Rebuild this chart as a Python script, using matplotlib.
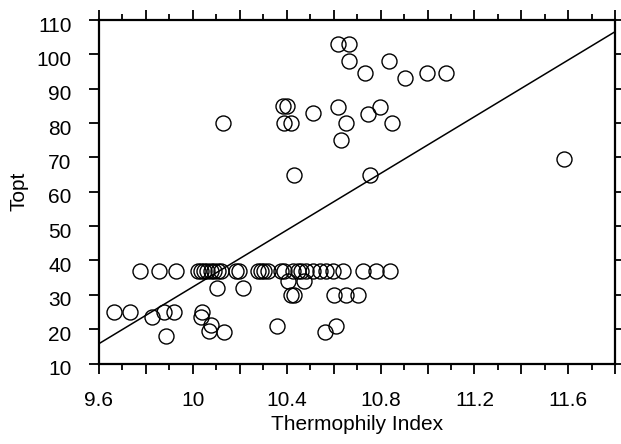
import numpy as np
import matplotlib
matplotlib.use("Agg")
import matplotlib.pyplot as plt
import matplotlib.transforms as mtransforms
from matplotlib.ticker import MultipleLocator

plt.rcParams['font.family'] = ['Liberation Sans', 'DejaVu Sans']

# -------------------------------
# Data
# -------------------------------
# high-Topt organisms
hi_x = [10.13, 10.385, 10.40, 10.387, 10.418, 10.51, 10.43,
        10.618, 10.667, 10.664, 10.835, 10.734, 10.999, 11.08, 10.906,
        10.62, 10.796, 10.653, 10.848, 10.746, 10.632, 10.756, 11.583]
hi_y = [80, 85, 85, 80, 80, 83, 65,
        103, 103, 98, 98, 94.6, 94.6, 94.6, 93.2,
        84.7, 84.7, 80, 80, 82.7, 75, 65, 69.6]

# the crowded row at ~37 C
row_x = [9.774, 9.856, 9.927, 10.02, 10.034, 10.048, 10.062, 10.077, 10.091,
         10.105, 10.119, 10.184, 10.198, 10.276, 10.29, 10.305, 10.319, 10.376,
         10.39, 10.425, 10.447, 10.461, 10.482, 10.511, 10.54, 10.568, 10.596,
         10.639, 10.724, 10.781, 10.838]
row_y = [36.8] * len(row_x)

# low-Topt organisms
lo_x = [10.404, 10.475, 10.42, 10.43, 10.603, 10.653, 10.703,
        10.101, 10.212, 9.664, 9.731, 9.878, 9.92, 9.825, 9.885,
        10.041, 10.034, 10.077, 10.07, 10.134, 10.357, 10.564, 10.608]
lo_y = [34, 34, 30, 30, 30, 30, 30,
        32, 32, 25, 25, 25, 25, 23.6, 18,
        25, 23.6, 21.2, 19.5, 19.2, 20.8, 19.2, 21]

# linear fit: Topt = slope * TI + intercept
fit_slope = 41.3
fit_intercept = -380.7

x_lim = (9.6, 11.8)
y_lim = (10, 110)
x_ticks = [9.6, 9.8, 10.0, 10.2, 10.4, 10.6, 10.8, 11.0, 11.2, 11.4, 11.6, 11.8]
x_ticklabels = ["9.6", "", "10", "", "10.4", "", "10.8", "", "11.2", "", "11.6", ""]

xs = np.concatenate([hi_x, row_x, lo_x])
ys = np.concatenate([hi_y, row_y, lo_y])

fig = plt.figure(figsize=(6.21, 4.44), dpi=100)
ax = fig.add_axes([0.1594, 0.1813, 0.8314, 0.7736])

ax.plot(xs, ys, linestyle="none", marker="o", markersize=10.8,
        markerfacecolor="none", markeredgecolor="black", markeredgewidth=1.0)

line_x = np.array(x_lim)
ax.plot(line_x, fit_slope * line_x + fit_intercept, color="black", lw=1.1)

ax.set_xlim(*x_lim)
ax.set_ylim(*y_lim)

ax.set_xticks(x_ticks)
ax.set_xticklabels(x_ticklabels)
ax.xaxis.set_minor_locator(MultipleLocator(0.1))
ax.yaxis.set_major_locator(MultipleLocator(10))

ax.tick_params(which="both", direction="out", top=True, right=True,
               labeltop=False, labelright=False, width=1.3, labelsize=15, colors="black")
ax.tick_params(which="major", length=7.2, pad=12.5)
ax.tick_params(which="minor", length=4)

for s in ax.spines.values():
    s.set_linewidth(1.6)

ax.set_xlabel("Thermophily Index", fontsize=15, labelpad=3.6)
ax.set_ylabel("Topt", fontsize=15, labelpad=5.8)

# y tick labels in the original sit a little below their ticks
shift = mtransforms.ScaledTranslation(0, -3 / 72, fig.dpi_scale_trans)
for lbl in ax.get_yticklabels():
    lbl.set_transform(lbl.get_transform() + shift)

fig.savefig("out.png", dpi=100)
